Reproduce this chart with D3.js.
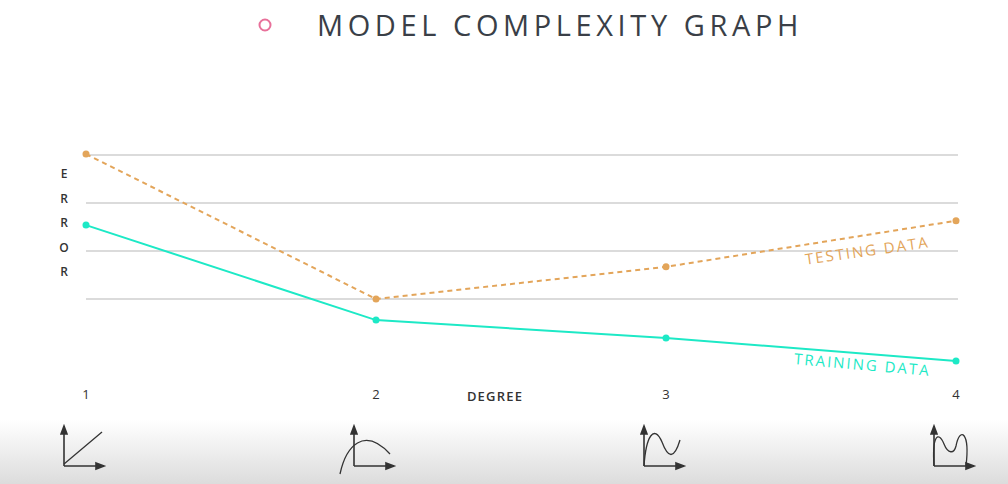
<!DOCTYPE html>
<html><head><meta charset="utf-8">
<script src="https://cdn.jsdelivr.net/npm/d3@7"></script>
<style>body{margin:0;background:#fff}svg{display:block}</style>
</head><body><svg id="c" width="1008" height="484"></svg>
<script>
// data
const degrees = [1, 2, 3, 4];
const testingError = [4.02, 1.0, 1.67, 2.63];
const trainingError = [2.54, 0.56, 0.19, -0.29];
const gridValues = [1, 2, 3, 4];
const yLetters = ['E', 'R', 'R', 'O', 'R'];

const svg = d3.select('#c');
const x = d3.scaleLinear().domain([1, 4]).range([86, 956]);
const y = d3.scaleLinear().domain([1, 4]).range([299, 155]);

// bottom shading
const defs = svg.append('defs');
const g = defs.append('linearGradient').attr('id', 'fade').attr('x1', 0).attr('x2', 0).attr('y1', 0).attr('y2', 1);
g.append('stop').attr('offset', '0%').attr('stop-color', '#fff');
g.append('stop').attr('offset', '100%').attr('stop-color', '#dcdcdc');
svg.append('rect').attr('x', 0).attr('y', 420).attr('width', 1008).attr('height', 64).attr('fill', 'url(#fade)');

// title
svg.append('circle').attr('cx', 265).attr('cy', 25).attr('r', 5.5).attr('fill', 'none').attr('stroke', '#e8709a').attr('stroke-width', 2);
svg.append('text').attr('x', 317).attr('y', 36).attr('font-family', 'Open Sans').attr('font-size', 29)
  .attr('letter-spacing', 4.6).attr('fill', '#3a3f47').text('MODEL COMPLEXITY GRAPH');

// grid
svg.selectAll('.grid').data(gridValues).enter().append('line')
  .attr('x1', 86).attr('x2', 958).attr('y1', d => y(d)).attr('y2', d => y(d))
  .attr('stroke', '#cfcfcf').attr('stroke-width', 1.5);

// y label
svg.selectAll('.yl').data(yLetters).enter().append('text')
  .attr('x', 64).attr('y', (d, i) => 178 + i * 24.5).attr('text-anchor', 'middle')
  .attr('font-family', 'Open Sans').attr('font-size', 12).attr('font-weight', 600).attr('fill', '#333').text(d => d);

// x ticks
svg.selectAll('.xt').data(degrees).enter().append('text')
  .attr('x', d => x(d)).attr('y', 399).attr('text-anchor', 'middle')
  .attr('font-family', 'Open Sans').attr('font-size', 13).attr('fill', '#333').text(d => d);
svg.append('text').attr('x', 495).attr('y', 401).attr('text-anchor', 'middle').attr('letter-spacing', 1.2)
  .attr('font-family', 'Open Sans').attr('font-size', 13).attr('font-weight', 600).attr('fill', '#333').text('DEGREE');

const line = d3.line().x((d, i) => x(degrees[i])).y(d => y(d));
const orange = '#e3a55a', cyan = '#1de9c6';
svg.append('path').attr('d', line(testingError)).attr('fill', 'none').attr('stroke', orange)
  .attr('stroke-width', 2).attr('stroke-dasharray', '5,4');
svg.append('path').attr('d', line(trainingError)).attr('fill', 'none').attr('stroke', cyan).attr('stroke-width', 2);
svg.selectAll('.tp').data(testingError).enter().append('circle')
  .attr('cx', (d, i) => x(degrees[i])).attr('cy', d => y(d)).attr('r', 3.5).attr('fill', orange);
svg.selectAll('.rp').data(trainingError).enter().append('circle')
  .attr('cx', (d, i) => x(degrees[i])).attr('cy', d => y(d)).attr('r', 3.5).attr('fill', cyan);

svg.append('text').attr('transform', 'translate(868,256) rotate(-8)').attr('text-anchor', 'middle')
  .attr('font-family', 'Open Sans').attr('font-size', 15).attr('letter-spacing', 2).attr('fill', orange).text('TESTING DATA');
svg.append('text').attr('transform', 'translate(862,370) rotate(5)').attr('text-anchor', 'middle')
  .attr('font-family', 'Open Sans').attr('font-size', 15).attr('letter-spacing', 2).attr('fill', cyan).text('TRAINING DATA');

// complexity icons below each degree
const curves = [
  'M0,-2 L38,-34',
  'M-14,8 C-8,-20 10,-40 36,-12',
  'M0,0 C2,-30 10,-42 18,-24 C24,-8 30,-6 36,-26',
  'M0,0 C-2,-30 4,-36 10,-22 C14,-12 20,-12 22,-20 C26,-40 36,-34 32,0'
];
const iconX = [64, 354, 644, 934];
const icons = svg.selectAll('.ic').data(degrees).enter().append('g')
  .attr('transform', (d, i) => `translate(${iconX[i]},466)`)
  .attr('fill', 'none').attr('stroke', '#333').attr('stroke-width', 1.6);
icons.append('path').attr('d', 'M0,0 V-36 M0,0 H36');
icons.append('path').attr('d', 'M-3,-32 L0,-40 L3,-32 Z M32,-3 L40,0 L32,3 Z').attr('fill', '#333');
icons.append('path').attr('d', (d, i) => curves[i]).attr('stroke-width', 1.3);
</script></body></html>
